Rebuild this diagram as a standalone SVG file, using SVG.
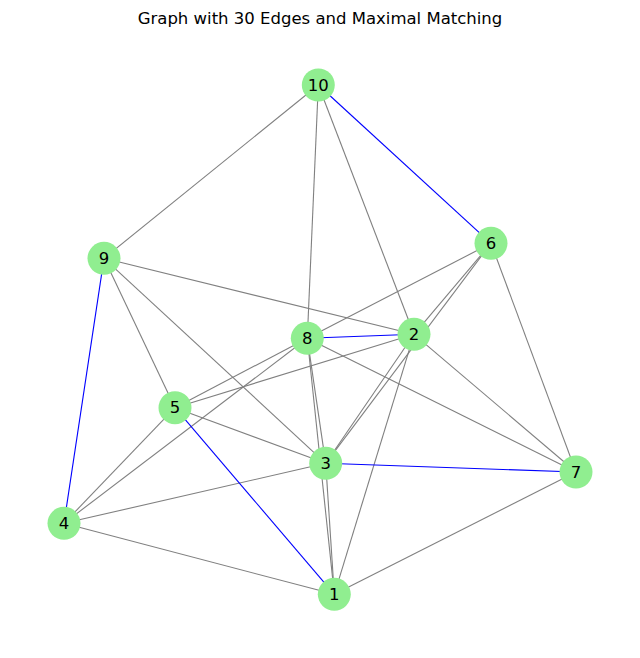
<svg xmlns="http://www.w3.org/2000/svg" width="640" height="658" viewBox="0 0 640 658">
<style>
.e{stroke:#808080;stroke-width:1.1;fill:none}
.m{stroke:#0000ff;stroke-width:1.1;fill:none}
.n circle{fill:#90ee90}
.n text{font-family:"DejaVu Sans",sans-serif;font-size:16.5px;fill:#000;text-anchor:middle;dominant-baseline:central}
.t{font-family:"DejaVu Sans",sans-serif;font-size:16.5px;fill:#000;text-anchor:middle}
</style>
<rect width="640" height="658" fill="#fff"/>
<text class="t" x="320" y="24">Graph with 30 Edges and Maximal Matching</text>
<g id="edges">
<line class="e" x1="318.3" y1="85" x2="104" y2="258.3"/>
<line class="e" x1="318.3" y1="85" x2="307.3" y2="338.3"/>
<line class="e" x1="318.3" y1="85" x2="414" y2="334.3"/>
<line class="e" x1="104" y1="258.3" x2="414" y2="334.3"/>
<line class="e" x1="104" y1="258.3" x2="175" y2="407.7"/>
<line class="e" x1="104" y1="258.3" x2="325.7" y2="463.3"/>
<line class="e" x1="491" y1="243.3" x2="307.3" y2="338.3"/>
<line class="e" x1="307.3" y1="338.3" x2="175" y2="407.7"/>
<line class="e" x1="491" y1="243.3" x2="414" y2="334.3"/>
<line class="e" x1="491" y1="243.3" x2="325.7" y2="463.3"/>
<line class="e" x1="491" y1="243.3" x2="576" y2="472"/>
<line class="e" x1="414" y1="334.3" x2="175" y2="407.7"/>
<line class="e" x1="414" y1="334.3" x2="325.7" y2="463.3"/>
<line class="e" x1="414" y1="334.3" x2="334.3" y2="594.3"/>
<line class="e" x1="414" y1="334.3" x2="576" y2="472"/>
<line class="e" x1="307.3" y1="338.3" x2="64" y2="523.3"/>
<line class="e" x1="307.3" y1="338.3" x2="325.7" y2="463.3"/>
<line class="e" x1="307.3" y1="338.3" x2="334.3" y2="594.3"/>
<line class="e" x1="307.3" y1="338.3" x2="576" y2="472"/>
<line class="e" x1="175" y1="407.7" x2="325.7" y2="463.3"/>
<line class="e" x1="175" y1="407.7" x2="64" y2="523.3"/>
<line class="e" x1="325.7" y1="463.3" x2="64" y2="523.3"/>
<line class="e" x1="325.7" y1="463.3" x2="334.3" y2="594.3"/>
<line class="e" x1="64" y1="523.3" x2="334.3" y2="594.3"/>
<line class="e" x1="334.3" y1="594.3" x2="576" y2="472"/>
<line class="m" x1="318.3" y1="85" x2="491" y2="243.3"/>
<line class="m" x1="307.3" y1="338.3" x2="414" y2="334.3"/>
<line class="m" x1="104" y1="258.3" x2="64" y2="523.3"/>
<line class="m" x1="175" y1="407.7" x2="334.3" y2="594.3"/>
<line class="m" x1="325.7" y1="463.3" x2="576" y2="472"/>
</g>
<g id="node1" class="n"><circle cx="334.3" cy="594.3" r="16.5"/><text x="334.3" y="594.3">1</text></g>
<g id="node2" class="n"><circle cx="414" cy="334.3" r="16.5"/><text x="414" y="334.3">2</text></g>
<g id="node3" class="n"><circle cx="325.7" cy="463.3" r="16.5"/><text x="325.7" y="463.3">3</text></g>
<g id="node4" class="n"><circle cx="64" cy="523.3" r="16.5"/><text x="64" y="523.3">4</text></g>
<g id="node5" class="n"><circle cx="175" cy="407.7" r="16.5"/><text x="175" y="407.7">5</text></g>
<g id="node6" class="n"><circle cx="491" cy="243.3" r="16.5"/><text x="491" y="243.3">6</text></g>
<g id="node7" class="n"><circle cx="576" cy="472" r="16.5"/><text x="576" y="472">7</text></g>
<g id="node8" class="n"><circle cx="307.3" cy="338.3" r="16.5"/><text x="307.3" y="338.3">8</text></g>
<g id="node9" class="n"><circle cx="104" cy="258.3" r="16.5"/><text x="104" y="258.3">9</text></g>
<g id="node10" class="n"><circle cx="318.3" cy="85" r="16.5"/><text x="318.3" y="85">10</text></g>
</svg>
